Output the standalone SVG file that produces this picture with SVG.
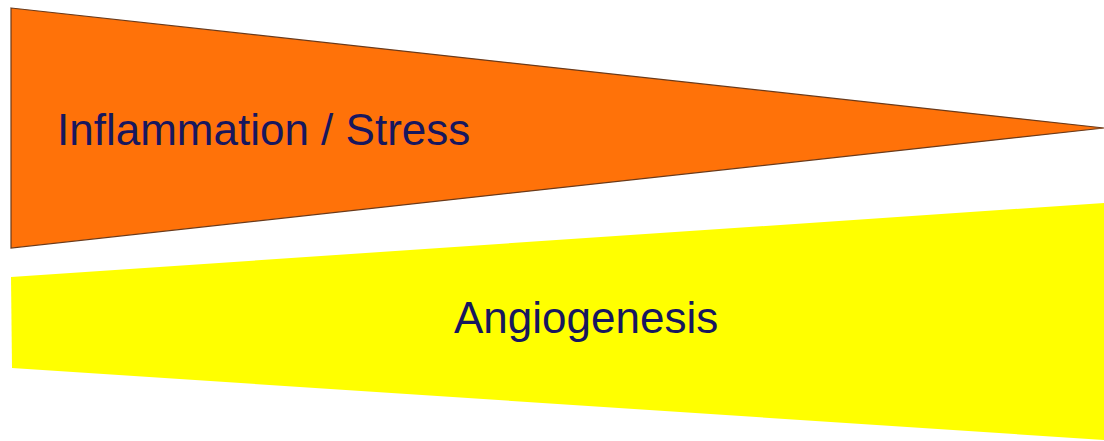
<svg xmlns="http://www.w3.org/2000/svg" width="1104" height="441" viewBox="0 0 1104 441">
<style>
.lbl{font-family:"Liberation Sans",Arial,sans-serif;font-size:44px;fill:#17175e;}
</style>
<rect width="1104" height="441" fill="#ffffff"/>
<g id="inflammation">
<polygon points="11,8 1104,128 11,248" fill="#ff7209" stroke="#6b3a1a" stroke-width="1.2" stroke-linejoin="miter"/>
<text class="lbl" x="57" y="145">Inflammation / Stress</text>
</g>
<g id="angiogenesis">
<polygon points="11,277 1104,203 1104,440 12,368" fill="#ffff00"/>
<text class="lbl" x="454" y="333">Angiogenesis</text>
</g>
<g id="connectors"></g>
</svg>
